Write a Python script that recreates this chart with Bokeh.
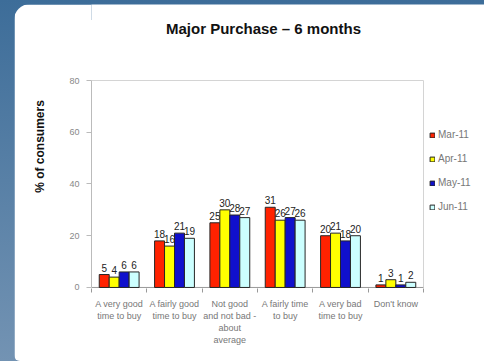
import math
from bokeh.plotting import figure
from bokeh.layouts import column
from bokeh.models import (ColumnDataSource, Label, Legend, LegendItem, FixedTicker, Range1d)
from bokeh.core.properties import value
from bokeh.embed import file_html
from bokeh.resources import INLINE

categories = ["A very good\ntime to buy", "A fairly good\ntime to buy",
              "Not good\nand not bad -\nabout\naverage", "A fairly time\nto buy",
              "A very bad\ntime to buy", "Don't know"]
series_names = ["Mar-11", "Apr-11", "May-11", "Jun-11"]
mar = [5, 18, 25, 31, 20, 1]
apr = [4, 16, 30, 26, 21, 3]
may = [6, 21, 28, 27, 18, 1]
jun = [6, 19, 27, 26, 20, 2]
colors = ["#ff2200", "#ffff00", "#1010cc", "#ccffff"]
y_ticks = [0, 20, 40, 60, 80]

FONT = "Liberation Sans"
N = len(categories)
YMAX = 80
YMIN = -0.4

FW, FH = 393, 284
x_end = FW * N / 332.0
y_end = YMIN + FH * (YMAX - YMIN) / 208.0

p = figure(width=470, height=357, x_range=Range1d(0, x_end), y_range=Range1d(YMIN, y_end),
           output_backend="svg", toolbar_location=None,
           min_border_left=77, min_border_right=0, min_border_top=0, min_border_bottom=73,
           margin=(4, 0, 0, 14),
           styles={"border-radius": "16px 0 0 6px", "overflow": "hidden"})
p.border_fill_color = "white"
p.background_fill_color = "white"
p.outline_line_color = None
p.xgrid.visible = False
p.ygrid.visible = False

p.segment(x0=[0, N], y0=[YMAX, 0], x1=[N, N], y1=[YMAX, YMAX], line_color="#d4d4d4", line_width=1)
p.segment(x0=[0], y0=[0], x1=[N], y1=[0], line_color="#999999", line_width=1)

series = [mar, apr, may, jun]
offsets = [-0.27, -0.09, 0.09, 0.27]
bw = 0.18
renderers = []
for name, vals, col, off in zip(series_names, series, colors, offsets):
    xs = [i + 0.5 + off for i in range(N)]
    src = ColumnDataSource(dict(x=xs, top=vals, lbl=[str(v) for v in vals]))
    r = p.vbar(x="x", top="top", bottom=0, width=bw, source=src, fill_color=col,
               line_color="#262626", line_width=1)
    renderers.append(r)
    p.text(x="x", y="top", text="lbl", source=src, text_align="center",
           text_baseline="bottom", y_offset=-3, text_font=value(FONT),
           text_font_size="10px", text_color="#222222")

xa = p.xaxis[0]
xa.bounds = (0, N)
xa.ticker = FixedTicker(ticks=[i + 0.5 for i in range(N)], minor_ticks=list(range(N + 1)))
xa.major_label_overrides = {i + 0.5: c for i, c in enumerate(categories)}
xa.major_tick_line_color = None
xa.minor_tick_line_color = "#999999"
xa.minor_tick_out = 4
xa.minor_tick_in = 0
xa.axis_line_color = None
xa.major_label_text_font = FONT
xa.major_label_text_font_size = "9px"
xa.major_label_text_color = "#777777"
xa.major_label_standoff = 4

ya = p.yaxis[0]
ya.bounds = (0, YMAX)
ya.ticker = FixedTicker(ticks=y_ticks, minor_ticks=[])
ya.axis_line_color = "#bbbbbb"
ya.major_tick_line_color = "#bbbbbb"
ya.major_tick_out = 5
ya.major_tick_in = 0
ya.major_label_text_font = FONT
ya.major_label_text_font_size = "9px"
ya.major_label_text_color = "#888888"
ya.major_label_standoff = 7
ya.axis_label = "% of consumers"
ya.axis_label_text_font = FONT
ya.axis_label_text_font_size = "12px"
ya.axis_label_text_font_style = "bold"
ya.axis_label_text_color = "#111111"
ya.axis_label_standoff = 19

p.add_layout(Label(x=172, y=260, x_units="screen", y_units="screen",
                   text="Major Purchase \u2013 6 months", text_align="center",
                   text_baseline="alphabetic", text_font=FONT, text_font_size="15px",
                   text_font_style="bold", text_color="#111111"))

legend = Legend(items=[LegendItem(label=n, renderers=[r]) for n, r in zip(series_names, renderers)],
                location=(338, 76), orientation="vertical", padding=0, margin=0,
                border_line_color=None, background_fill_color=None, background_fill_alpha=0,
                glyph_width=6, glyph_height=6, label_height=11, spacing=13,
                label_standoff=3, label_text_font=FONT, label_text_font_size="10px",
                label_text_color="#777777")
p.add_layout(legend, "center")

layout = column(p, width=484, height=361,
                styles={"background": "linear-gradient(#ffffff, #ffffff) 30px 20px / 454px 341px no-repeat, "
                                      "linear-gradient(to bottom, #3d6d99, #7393b3)"})

open("out.html", "w").write(file_html(layout, INLINE))
